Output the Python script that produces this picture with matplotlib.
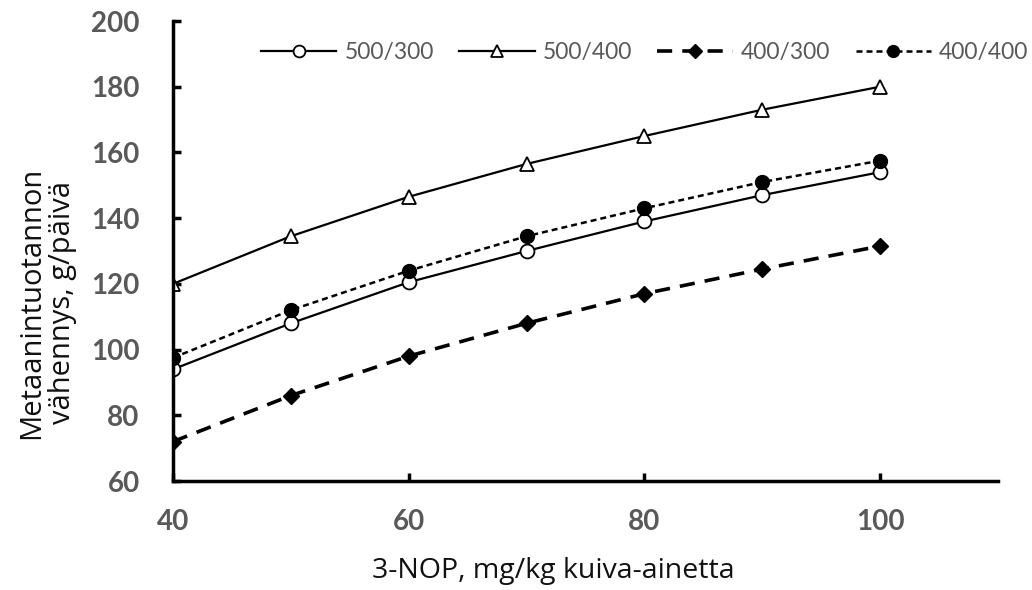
import matplotlib
matplotlib.use("Agg")
import matplotlib.pyplot as plt

x = [40, 50, 60, 70, 80, 90, 100]
s_500_300 = [94, 108, 120.5, 130, 139, 147, 154]
s_500_400 = [120, 134.5, 146.5, 156.5, 165, 173, 180]
s_400_300 = [72, 86, 98, 108, 117, 124.5, 131.5]
s_400_400 = [97.5, 112, 124, 134.5, 143, 151, 157.5]
labels = ["500/300", "500/400", "400/300", "400/400"]
xticks = [40, 60, 80, 100]
yticks = [60, 80, 100, 120, 140, 160, 180, 200]

fig = plt.figure(figsize=(10.32, 5.9), dpi=100)
ax = fig.add_axes([173/1032, 1-481/590, (998-173)/1032, (481-21)/590])

ax.plot(x, s_500_300, color="black", lw=1.6, marker="o", ms=10, mfc="white", mec="black", mew=1.3, label=labels[0])
ax.plot(x, s_500_400, color="black", lw=1.6, marker="^", ms=10, mfc="white", mec="black", mew=1.3, label=labels[1])
ax.plot(x, s_400_300, color="black", lw=2.6, ls=(0, (4.2, 2.8)), marker="D", ms=8.5, mfc="black", mec="black", label=labels[2])
ax.plot(x, s_400_400, color="black", lw=1.8, ls=(0, (2.4, 1.6)), marker="o", ms=10, mfc="black", mec="black", label=labels[3])

ax.set_xlim(40, 110)
ax.set_ylim(60, 200)
ax.set_xticks(xticks)
ax.set_yticks(yticks)
for s in ["top", "right"]:
    ax.spines[s].set_visible(False)
for s in ["left", "bottom"]:
    ax.spines[s].set_linewidth(2.5)
ax.tick_params(axis="both", direction="in", length=6, width=2.5, colors="black",
               labelcolor="#595959")
ax.tick_params(axis="y", pad=24)
ax.tick_params(axis="x", pad=20)
for lab in ax.get_xticklabels() + ax.get_yticklabels():
    lab.set_fontfamily("Lato")
    lab.set_fontweight("bold")
    lab.set_fontsize(20)

fig.text(553/1032, 1-571/590, "3-NOP, mg/kg kuiva-ainetta", ha="center", va="center",
         fontsize=20.5, family=["Open Sans", "DejaVu Sans"], color="#111111")
fig.text(47/1032, 1-303/590, "Metaanintuotannon\nvähennys, g/päivä", ha="center", va="center",
         rotation=90, fontsize=21, family=["Open Sans", "DejaVu Sans"], color="#111111", linespacing=1.05)

leg = ax.legend(ncol=4, loc="upper right", bbox_to_anchor=(1.062, 1.0), frameon=False,
                handlelength=3.3, columnspacing=1.1, handletextpad=0.35, markerscale=0.85,
                prop={"family": "Lato", "size": 16.5})
for t in leg.get_texts():
    t.set_color("#595959")

fig.savefig("out.png", dpi=100)
